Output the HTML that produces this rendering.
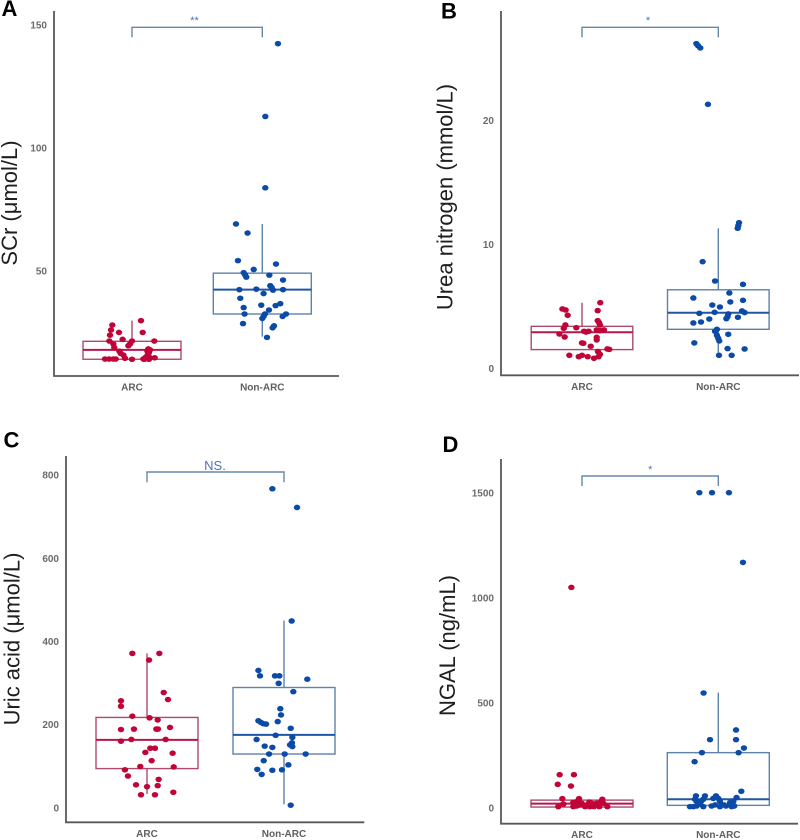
<!DOCTYPE html>
<html>
<head>
<meta charset="utf-8">
<title>ARC vs Non-ARC box plots</title>
<style>
html,body{margin:0;padding:0;background:#fff;}
svg{display:block;font-family:"Liberation Sans",sans-serif;}
</style>
</head>
<body>
<svg id="figure" width="800" height="840" viewBox="0 0 800 840" xmlns="http://www.w3.org/2000/svg"></svg>
<script>
const categories = ["ARC", "Non-ARC"];

// Panel A: SCr
const aTicks = [50, 100, 150];
const aArcJitter = [.069,-.151,-.161,-.100,.082,-.169,-.174,-.072,0,.171,-.015,-.028,-.143,-.136,-.097,-.087,-.066,-.054,-.207,-.176,-.143,-.125,0,.087,.125,.138,.118,.130,.120,.105,.133,.174,.095,.130];
const aArcValues = [29.7,27.9,25.9,24.9,24.9,23.8,21.4,22.1,21.4,21.4,20.2,19.5,20.2,18.7,17.3,16.4,15.7,14.4,14.1,14.1,14.1,14.1,14.0,14.1,18.2,17.8,17.3,16.7,15.7,14.8,14.8,14.6,14.0,14.0];
const aNonJitter = [.120,.023,.023,-.202,-.113,-.187,.105,-.066,-.143,-.133,-.123,.054,.159,.061,.072,.082,.159,-.176,-.046,.010,-.169,-.008,.138,.102,-.143,.051,-.136,.020,.010,0,.182,.156,-.148,.090,.079,.036];
const aNonValues = [142.3,112.7,83.7,69.0,65.3,54.1,52.7,50.5,49.2,48.4,47.4,48.2,46.2,43.9,43.2,42.1,42.3,42.3,42.5,40.7,38.8,36.0,36.6,35.8,35.0,34.0,32.4,32.4,31.4,30.6,32.4,31.4,28.5,27.6,26.8,22.9];
const aArcBox = [14.0, 17.8, 21.3];
const aArcWhisker = [14.0, 29.7];
const aNonBox = [32.4, 42.3, 49.0];
const aNonWhisker = [23.2, 69.0];

// Panel B: Urea nitrogen
const bTicks = [0, 10, 20];
const bArcJitter = [.134,-.144,-.120,-.105,.115,.115,.125,.132,-.122,-.134,-.042,.161,.132,.108,.015,.049,.029,-.166,-.127,.108,.108,0,.010,.064,.186,.200,.117,-.093,.132,0,-.024,.042,.122,.088];
const bArcValues = [5.30,4.79,4.71,4.28,4.66,3.85,3.69,3.50,3.50,3.23,3.28,3.10,3.04,3.10,2.99,2.99,2.93,2.77,2.53,2.50,2.29,2.05,2.02,1.78,1.56,1.53,1.35,1.05,1.13,1.05,.94,.94,.94,.81];
const bNonJitter = [-.161,-.149,-.132,-.076,.152,.147,.142,-.115,-.024,.181,.081,-.183,.088,.181,-.044,.012,-.139,-.027,.073,.174,.193,.068,.059,.144,-.066,-.127,-.183,-.010,-.024,.073,-.010,0,.007,-.176,.068,.193,.005,.098];
const bNonValues = [26.22,26.06,25.87,21.32,11.76,11.52,11.31,8.61,7.05,6.78,6.08,5.68,5.36,5.49,5.11,4.95,4.44,4.52,4.39,4.63,4.50,4.17,4.01,4.12,3.98,3.74,3.66,3.15,2.99,2.75,2.66,2.42,2.21,2.05,1.59,1.56,1.05,1.05];
const bArcBox = [1.51, 2.91, 3.39];
const bArcWhisker = [1.51, 5.30];
const bNonBox = [3.15, 4.49, 6.34];
const bNonWhisker = [1.05, 11.3];

// Panel C: Uric acid
const cTicks = [0, 200, 400, 600, 800];
const cArcJitter = [-.107,.090,.015,.122,.153,-.190,-.190,-.107,.019,.078,.168,-.190,-.095,.068,.080,-.190,-.114,.136,-.012,.024,.058,.187,.034,-.049,.195,-.161,-.139,.085,-.080,0,.078,.192,-.044,.058];
const cArcValues = [371,371,355,277,260,257,244,220,216,211,193,188,189,189,189,160,164,164,133,143,143,131,113,99,98,91,76,68,55,50.5,53,37,31,31];
const cNonJitter = [-.085,.095,.056,-.187,-.175,-.066,-.034,.170,-.039,.068,-.027,-.022,-.187,-.168,-.151,-.131,-.046,.049,-.061,.061,-.200,.058,.044,.061,-.141,-.085,-.109,.005,.158,-.148,.032,-.195,-.015,-.085,-.163,.049];
const cNonValues = [767,722,449,330,317,317,317,309,299,279,238,223,209,205,202,201,207,191,174,169,164,156,151,147,148,145,129,129,129,113,103,92,91,90,80,6];
const cArcBox = [94, 163, 217];
const cArcWhisker = [33, 371];
const cNonBox = [129, 175, 289];
const cNonWhisker = [8, 450];

// Panel D: NGAL
const dTicks = [0, 500, 1000, 1500];
const dArcJitter = [-.078,-.164,-.059,-.178,-.081,-.144,-.022,.149,-.174,-.137,-.064,-.039,-.064,-.051,-.015,.022,-.002,.054,.071,.059,.088,.108,.132,.127,.156,.186,-.039,.095,.034,.046,.144,-.027];
const dArcValues = [1049,157,157,111,103,43,43,40,5,17,25,29,5,17,13,5,21,27,21,5,5,21,25,5,21,5,8,16,8,17,32,21];
const dNonJitter = [-.139,-.046,.078,.181,-.108,.130,-.061,.130,.188,-.120,.149,-.174,.169,-.164,-.098,-.017,-.037,0,.134,-.171,-.110,.110,.086,-.159,-.127,.012,-.208,-.183,-.159,-.110,-.049,-.024,.012,.042,.098,.117,.056,-.134];
const dNonValues = [1500,1500,1500,1168,546,370,324,324,284,262,262,219,78,56,56,56,44,44,48,40,40,29,24,29,29,29,5,5,8,5,8,13,5,13,5,8,8,17];
const dArcBox = [3, 19, 36];
const dArcWhisker = [3, 36];
const dNonBox = [11, 40, 262];
const dNonWhisker = [11, 548];

const NS = "http://www.w3.org/2000/svg";
const fig = document.getElementById("figure");

function mk(parent, tag, attrs, text) {
  const el = document.createElementNS(NS, tag);
  for (const k in attrs) el.setAttribute(k, attrs[k]);
  if (text !== undefined) el.textContent = text;
  parent.appendChild(el);
  return el;
}

function drawSeries(g, key, cx, spacing, yScale, hw, jitter, values, box, whisker, colors) {
  const xScale = j => cx + j * spacing;
  const upper = mk(g, "line", {x1: cx, x2: cx, y1: yScale(box[2]), y2: yScale(whisker[1]), stroke: colors.box, "stroke-width": 1.4});
  
  
  const lower = mk(g, "line", {x1: cx, x2: cx, y1: yScale(box[0]), y2: yScale(whisker[0]), stroke: colors.box, "stroke-width": 1.4});
  
  
  const rect = mk(g, "rect", {x: cx - hw, width: hw * 2, y: yScale(box[2]), height: yScale(box[0]) - yScale(box[2]), fill: "none", stroke: colors.box, "stroke-width": 1.4});
  
  
  const med = mk(g, "line", {x1: cx - hw, x2: cx + hw, y1: yScale(box[1]), y2: yScale(box[1]), stroke: colors.median, "stroke-width": 2});
  
  
  values.forEach((v, i) => {
    const p = mk(g, "ellipse", {cx: xScale(jitter[i]), cy: yScale(v), rx: 3.2, ry: 2.8, fill: colors.point});
    
    
  });
}

const RED = {box: "#ab4a6c", median: "#b8164c", point: "#c10438"};
const BLUE = {box: "#5d82ab", median: "#1f56a6", point: "#0c4aa8"};

function drawPanel(c) {
  const g = mk(fig, "g", {});
  
  
  const yScale = v => c.y0 - v * c.pxPerUnit;

  const letter = mk(g, "text", {x: c.letterX, y: c.letterY, "font-size": 22, "font-weight": "bold", fill: "#000"}, c.letter);
  
  

  const axes = mk(g, "path", {d: `M${c.axisX} ${c.axisTop}V${c.axisBottom}H${c.axisRight}`, fill: "none", stroke: "#595959", "stroke-width": 1.8});
  
  

  c.ticks.forEach(t => {
    const label = mk(g, "text", {x: c.axisX - 7, y: yScale(t) + 3.6, "text-anchor": "end", "font-size": 10, "font-weight": "bold", fill: "#6b6b6b"}, t);
    
    
  });

  categories.forEach((name, i) => {
    const label = mk(g, "text", {x: c.cx + i * c.spacing, y: c.axisBottom + 14.5, "text-anchor": "middle", "font-size": 10, "font-weight": "bold", fill: "#5f5f5f"}, name);
    
    
  });

  const title = mk(g, "text", {transform: `translate(${c.titleX} ${c.titleY}) rotate(-90)`, "text-anchor": "middle", "font-size": 22, fill: "#1f1f1f"}, c.title);
  
  

  const bx1 = c.cx, bx2 = c.cx + c.spacing;
  const bracket = mk(g, "path", {d: `M${bx1} ${c.bracketBottom}V${c.bracketTop}H${bx2}V${c.bracketBottom}`, fill: "none", stroke: "#6488ae", "stroke-width": 1.4});
  
  
  const sig = mk(g, "text", {x: c.sigX, y: c.sigY, "text-anchor": "middle", "font-size": c.sigSize, fill: "#4f72b8"}, c.sig);
  
  

  drawSeries(g, "arc", c.cx, c.spacing, yScale, c.hw, c.arcJ, c.arcV, c.arcBox, c.arcW, RED);
  drawSeries(g, "non", c.cx + c.spacing, c.spacing, yScale, c.hw, c.nonJ, c.nonV, c.nonBox, c.nonW, BLUE);
}

drawPanel({letter: "A", letterX: 1.5, letterY: 16, axisX: 54, axisTop: 11, axisBottom: 376, axisRight: 339,
  y0: 393.7, pxPerUnit: 2.46, cx: 132, spacing: 130.3, hw: 49, ticks: aTicks,
  title: "SCr (μmol/L)", titleX: 17, titleY: 203,
  bracketTop: 27.3, bracketBottom: 37.3, sig: "**", sigX: 194.5, sigY: 24, sigSize: 11,
  arcJ: aArcJitter, arcV: aArcValues, arcBox: aArcBox, arcW: aArcWhisker,
  nonJ: aNonJitter, nonV: aNonValues, nonBox: aNonBox, nonW: aNonWhisker});

drawPanel({letter: "B", letterX: 441, letterY: 18.3, axisX: 501, axisTop: 11, axisBottom: 375.3, axisRight: 799,
  y0: 368.3, pxPerUnit: 12.383, cx: 582, spacing: 136.3, hw: 50.8, ticks: bTicks,
  title: "Urea nitrogen (mmol/L)", titleX: 452.7, titleY: 197,
  bracketTop: 27.3, bracketBottom: 37.3, sig: "*", sigX: 648, sigY: 24, sigSize: 11,
  arcJ: bArcJitter, arcV: bArcValues, arcBox: bArcBox, arcW: bArcWhisker,
  nonJ: bNonJitter, nonV: bNonValues, nonBox: bNonBox, nonW: bNonWhisker});

drawPanel({letter: "C", letterX: 3.5, letterY: 447.3, axisX: 66, axisTop: 456, axisBottom: 822.3, axisRight: 364.3,
  y0: 807.67, pxPerUnit: 0.4158, cx: 147, spacing: 137, hw: 51, ticks: cTicks,
  title: "Uric acid (μmol/L)", titleX: 19.3, titleY: 639,
  bracketTop: 472, bracketBottom: 482.3, sig: "NS.", sigX: 215, sigY: 470, sigSize: 13,
  arcJ: cArcJitter, arcV: cArcValues, arcBox: cArcBox, arcW: cArcWhisker,
  nonJ: cNonJitter, nonV: cNonValues, nonBox: cNonBox, nonW: cNonWhisker});

drawPanel({letter: "D", letterX: 442.5, letterY: 452, axisX: 501, axisTop: 459, axisBottom: 823.7, axisRight: 798,
  y0: 807.67, pxPerUnit: 0.21, cx: 582, spacing: 136.3, hw: 51, ticks: dTicks,
  title: "NGAL (ng/mL)", titleX: 455, titleY: 645.5,
  bracketTop: 476, bracketBottom: 486, sig: "*", sigX: 650.3, sigY: 473, sigSize: 11,
  arcJ: dArcJitter, arcV: dArcValues, arcBox: dArcBox, arcW: dArcWhisker,
  nonJ: dNonJitter, nonV: dNonValues, nonBox: dNonBox, nonW: dNonWhisker});
</script>
</body>
</html>
